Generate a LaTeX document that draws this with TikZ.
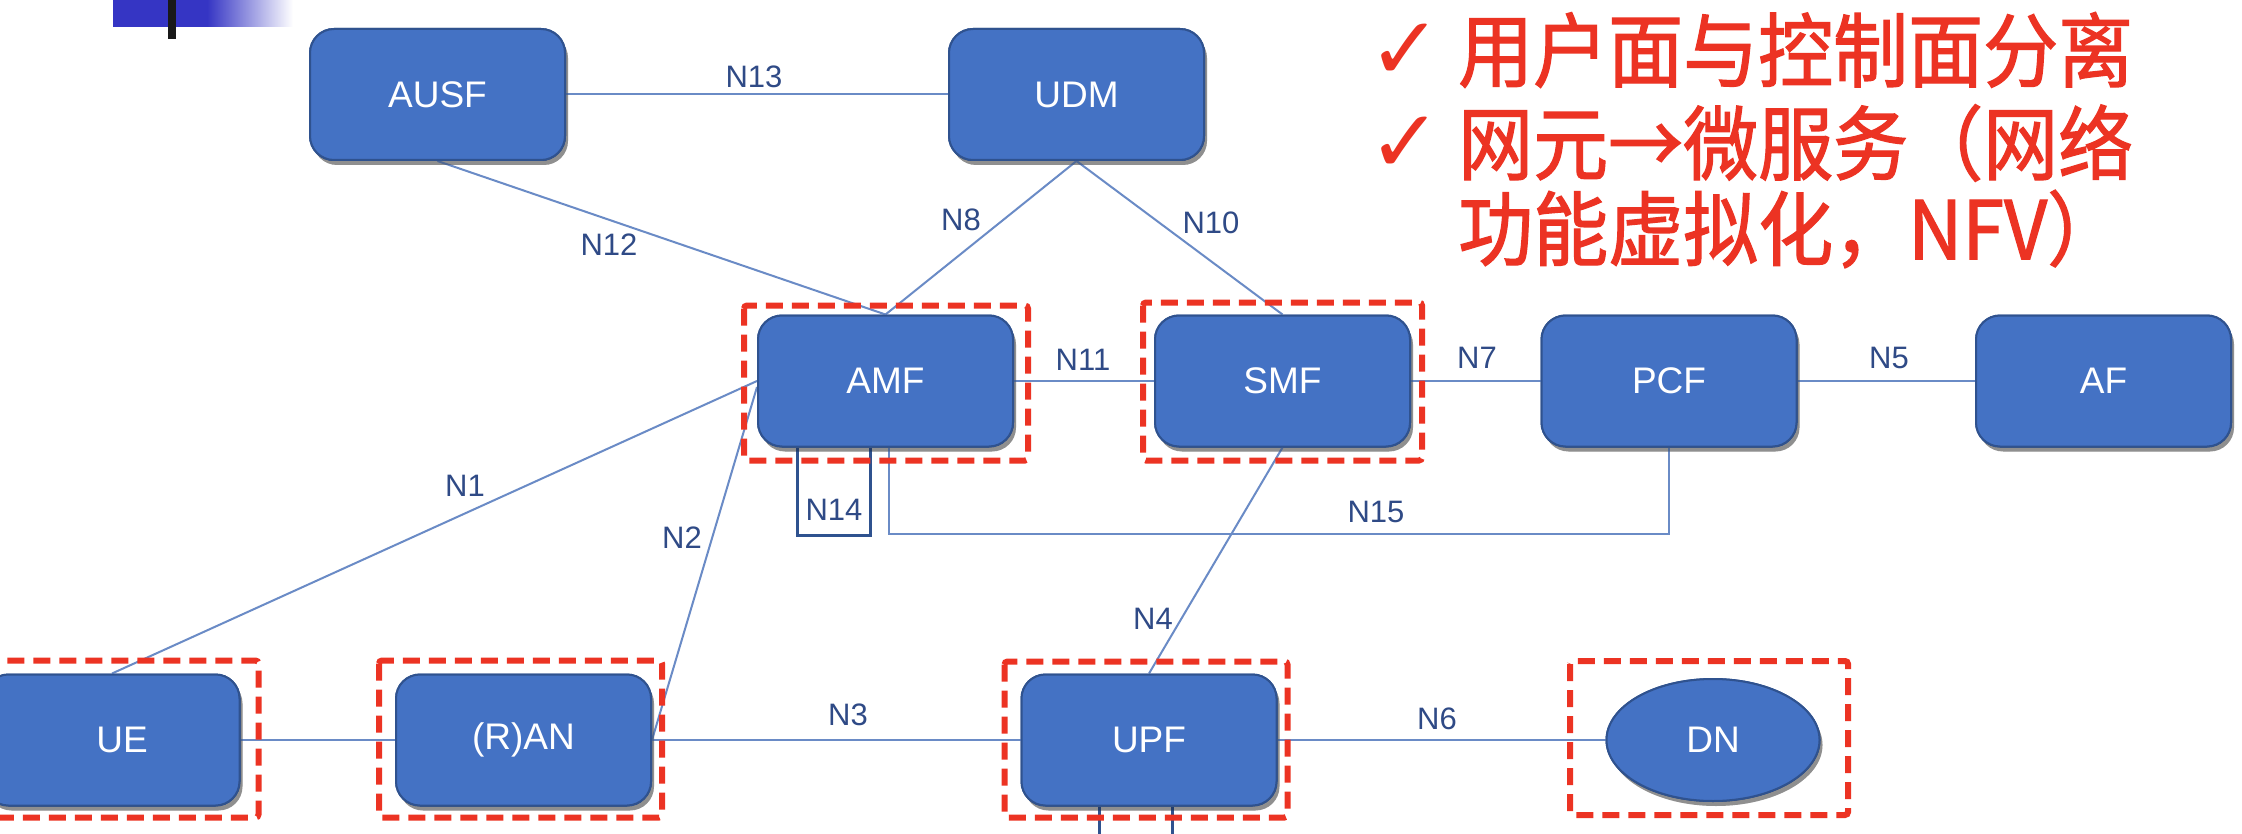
\documentclass[tikz,border=0pt]{standalone}
\usepackage{fontspec}
\setmainfont{Liberation Sans}
\newfontfamily\cjk{Noto Sans CJK SC}[FakeBold=1.6]
\newfontfamily\dejavu{DejaVu Sans}
\usetikzlibrary{shapes.geometric,shadows}
\definecolor{boxblue}{HTML}{4472C4}
\definecolor{boxedge}{HTML}{2F528F}
\definecolor{linkblue}{HTML}{6A8BC6}
\definecolor{lblblue}{HTML}{2F4A86}
\definecolor{redmark}{HTML}{EC3323}
\definecolor{hdrblue}{HTML}{3535C4}
\tikzset{
  nf/.style={draw=boxedge, line width=2pt, fill=boxblue, rounded corners=24pt,
    minimum width=255pt, minimum height=131pt, text=white, inner sep=0pt,
    font=\fontsize{37}{44}\selectfont,
    drop shadow={shadow xshift=3pt, shadow yshift=-5pt, opacity=0.25, fill=black}},
  dnshape/.style={ellipse, draw=boxedge, line width=2pt, fill=boxblue,
    minimum width=213pt, minimum height=122pt, text=white, inner sep=0pt,
    font=\fontsize{37}{44}\selectfont,
    drop shadow={shadow xshift=3pt, shadow yshift=-5pt, opacity=0.25, fill=black}},
  nftext/.style={text=white, inner sep=0pt, font=\fontsize{37}{44}\selectfont},
  link/.style={draw=linkblue, line width=2pt},
  loopline/.style={draw=boxedge, line width=3pt},
  lbl/.style={text=lblblue, inner sep=0pt, font=\fontsize{31}{36}\selectfont},
  redbox/.style={draw=redmark, line width=6pt, dash pattern=on 17pt off 9pt, rounded corners=3pt},
  redtext/.style={text=redmark, inner sep=0pt, anchor=west, yscale=1.08, font=\cjk\fontsize{75}{90}\selectfont},
  checkmark/.style={text=redmark, inner sep=0pt, anchor=west, font=\dejavu\fontsize{88}{100}\selectfont}
}
\begin{document}
\begin{tikzpicture}[x=1pt,y=-1pt]
\useasboundingbox (0,0) rectangle (2242,834);
\clip (0,0) rectangle (2242,834);
\fill[white] (0,0) rectangle (2242,834);
% header decoration
\fill[hdrblue] (113,0) rectangle (207,27);
\shade[left color=hdrblue, right color=white] (207,0) rectangle (293,27);
\fill[black!90] (168,0) rectangle (176,39);

\coordinate (pAUSF) at (437.5,94.5);
\coordinate (pUDM) at (1076.5,94.5);
\coordinate (pAMF) at (885.5,381);
\coordinate (pSMF) at (1282.5,381);
\coordinate (pPCF) at (1669,381);
\coordinate (pAF) at (2103.5,381);
\coordinate (pUE) at (112,740);
\coordinate (pRAN) at (523.5,740);
\coordinate (pUPF) at (1149,740);
\coordinate (pDN) at (1713,740);

% boxes (named, used for connector anchors)
\node[nf] (ausf) at (pAUSF) {};
\node[nf] (udm) at (pUDM) {};
\node[nf] (amf) at (pAMF) {};
\node[nf] (smf) at (pSMF) {};
\node[nf] (pcf) at (pPCF) {};
\node[nf] (af) at (pAF) {};
\node[nf] (ue) at (pUE) {};
\node[nf] (ran) at (pRAN) {};
\node[nf] (upf) at (pUPF) {};
\node[dnshape] (dn) at (pDN) {};

% links
\draw[link] (ausf.east) -- (udm.west);
\draw[link] (ausf.south) -- (amf.north);
\draw[link] (udm.south) -- (amf.north);
\draw[link] (udm.south) -- (smf.north);
\draw[link] (amf.east) -- (smf.west);
\draw[link] (smf.east) -- (pcf.west);
\draw[link] (pcf.east) -- (af.west);
\draw[link] (ue.north) -- (amf.west);
\draw[link] (ran.east) -- ([yshift=-6pt]amf.west);
\draw[link] (smf.south) -- (upf.north);
\draw[link] (ue.east) -- (ran.west);
\draw[link] (ran.east) -- (upf.west);
\draw[link] (upf.east) -- (dn.west);
\draw[link] ([xshift=3pt]amf.south) -- ++(0,86) -| (pcf.south);
\draw[loopline] ([xshift=-88pt]amf.south) -- ++(0,88) -- ++(73,0) -- ++(0,-88);
\coordinate (n9a) at ([xshift=-50pt]upf.south);
\coordinate (n9b) at ([xshift=23pt]upf.south);
\draw[loopline] (n9a) -- ++(0,40);
\draw[loopline] (n9b) -- ++(0,40);

% boxes again on top of links, with their texts
\node[nf] at (pAUSF) {};
\node[nf] at (pUDM) {};
\node[nf] at (pAMF) {};
\node[nf] at (pSMF) {};
\node[nf] at (pPCF) {};
\node[nf] at (pAF) {};
\node[nf] at (pUE) {};
\node[nf] at (pRAN) {};
\node[nf] at (pUPF) {};
\node[dnshape] at (pDN) {};
\node[nftext] (tausf) at (ausf.center) {AUSF};
\node[nftext] (tudm) at (udm.center) {UDM};
\node[nftext] (tamf) at (amf.center) {AMF};
\node[nftext] (tsmf) at (smf.center) {SMF};
\node[nftext] (tpcf) at (pcf.center) {PCF};
\node[nftext] (taf) at (af.center) {AF};
\node[nftext] (tue) at ([xshift=10pt]ue.center) {UE};
\node[nftext] (tran) at (ran.center) {(R)AN};
\node[nftext] (tupf) at (upf.center) {UPF};
\node[nftext] (tdn) at (dn.center) {DN};

% red dashed frames
\draw[redbox] ([shift={(-13pt,9pt)}]amf.north west) rectangle ([shift={(14pt,-13pt)}]amf.south east);
\draw[redbox] ([shift={(-11pt,12pt)}]smf.north west) rectangle ([shift={(11pt,-13pt)}]smf.south east);
\draw[redbox] ([shift={(-16pt,13pt)}]ue.north west) rectangle ([shift={(18pt,-11pt)}]ue.south east);
\draw[redbox] ([shift={(-16pt,13pt)}]ran.north west) rectangle ([shift={(10pt,-11pt)}]ran.south east);
\draw[redbox] ([shift={(-16pt,12pt)}]upf.north west) rectangle ([shift={(10pt,-11pt)}]upf.south east);
\draw[redbox] (1570,661) rectangle (1848,815);

% labels
\node[lbl] (lN13) at (754,77) {N13};
\node[lbl] (lN12) at (609,245) {N12};
\node[lbl] (lN8) at (961,220) {N8};
\node[lbl] (lN10) at (1211,223) {N10};
\node[lbl] (lN11) at (1083,360) {N11};
\node[lbl] (lN7) at (1477,358) {N7};
\node[lbl] (lN5) at (1889,358) {N5};
\node[lbl] (lN1) at (465,486) {N1};
\node[lbl] (lN2) at (682,538) {N2};
\node[lbl] (lN14) at (834,510) {N14};
\node[lbl] (lN15) at (1376,512) {N15};
\node[lbl] (lN4) at (1153,619) {N4};
\node[lbl] (lN3) at (848,715) {N3};
\node[lbl] (lN6) at (1437,719) {N6};

% red text
\node[checkmark] (c1) at (1368,52) {✓};
\node[checkmark] (c2) at (1368,145) {✓};
\node[redtext] (t1) at (1458,50) {用户面与控制面分离};
\node[redtext] (t2) at (1458,143) {网元→微服务（网络};
\node[redtext] (t3) at (1458,229) {功能虚拟化，NFV）};
\end{tikzpicture}
\end{document}
